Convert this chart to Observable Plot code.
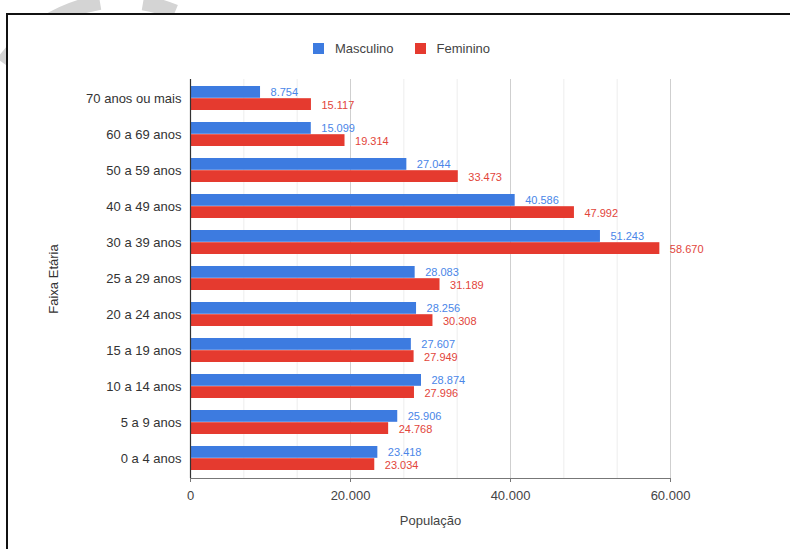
<!DOCTYPE html>
<html>
<head>
<meta charset="utf-8">
<script src="https://cdn.jsdelivr.net/npm/d3@7"></script>
<script src="https://cdn.jsdelivr.net/npm/@observablehq/plot@0.6"></script>
<style>
  body { margin: 0; width: 790px; height: 549px; overflow: hidden; position: relative; background: #fff;
         font-family: Arial, "Liberation Sans", sans-serif; }
  #mark { position: absolute; left: 0; top: 0; }
  #frame { position: absolute; left: 6px; top: 13px; width: 820px; height: 580px;
           border-top: 2px solid #111; border-left: 2px solid #111; background: #fff; }
  #legend { position: absolute; left: 313px; top: 41px; display: flex; align-items: center;
            font-size: 13px; color: #444; }
  #legend .sw { width: 11px; height: 11px; display: inline-block; margin-right: 11px; }
  #legend .item { display: flex; align-items: center; margin-right: 21px; }
  #chart { position: absolute; left: 0; top: 60px; }
</style>
</head>
<body>
<svg id="mark" width="790" height="549">
  <path d="M 3,63 A 149 149 0 0 1 100,2.4" fill="none" stroke="#d4d4d4" stroke-width="15"/>
  <path d="M 143,2.8 A 149 149 0 0 1 175,12" fill="none" stroke="#d4d4d4" stroke-width="15"/>
</svg>
<div id="frame"></div>
<div id="legend"></div>
<div id="chart"></div>
<script>
// Faixas etárias (de baixo para cima no gráfico)
const faixas = ["0 a 4 anos", "5 a 9 anos", "10 a 14 anos", "15 a 19 anos", "20 a 24 anos",
                "25 a 29 anos", "30 a 39 anos", "40 a 49 anos", "50 a 59 anos", "60 a 69 anos",
                "70 anos ou mais"];
const masculino = [23418, 25906, 28874, 27607, 28256, 28083, 51243, 40586, 27044, 15099, 8754];
const feminino  = [23034, 24768, 27996, 27949, 30308, 31189, 58670, 47992, 33473, 19314, 15117];
const series = ["Masculino", "Feminino"];
const xTicks = [0, 20000, 40000, 60000];

const corM = "#3d7be0", corF = "#e53a2f";
const corLabelM = "#4a86e8", corLabelF = "#e2453b";

const ptBR = d3.formatLocale({decimal: ",", thousands: ".", grouping: [3], currency: ["R$", ""]});
const fmt = ptBR.format(",d");

const rows = faixas.map((f, i) => ({faixa: f, masc: masculino[i], fem: feminino[i]}));

// legenda
const legend = document.getElementById("legend");
[[series[0], corM], [series[1], corF]].forEach(([name, c]) => {
  const it = document.createElement("div");
  it.className = "item";
  it.innerHTML = `<span class="sw" style="background:${c}"></span><span>${name}</span>`;
  legend.appendChild(it);
});

// linhas de grade secundárias: três divisões entre cada marca principal
const minor = d3.range(0, 60001, 20000 / 3).filter(v => !xTicks.some(t => Math.abs(t - v) < 1));

const half = 12.2;
const chart = Plot.plot({
  width: 790,
  height: 489,
  marginLeft: 190,
  marginRight: 120,
  marginTop: 19,
  marginBottom: 71,
  style: {fontSize: "13px", fontFamily: "Arial, 'Liberation Sans', sans-serif", color: "#333", background: "transparent"},
  x: {domain: [0, 60000]},
  y: {domain: faixas.slice().reverse(), paddingInner: 0.33, paddingOuter: 0.2},
  marks: [
    Plot.ruleX(minor, {stroke: "#ededed"}),
    Plot.ruleX(xTicks.slice(1), {stroke: "#cfcfcf"}),
    Plot.barX(rows, {x: "masc", y: "faixa", fill: corM, insetBottom: half}),
    Plot.barX(rows, {x: "fem", y: "faixa", fill: corF, insetTop: half}),
    Plot.text(rows, {x: "masc", y: "faixa", text: d => fmt(d.masc), dx: 10, dy: -6.5, textAnchor: "start", fill: corLabelM, fontSize: 11}),
    Plot.text(rows, {x: "fem", y: "faixa", text: d => fmt(d.fem), dx: 10, dy: 6.5, textAnchor: "start", fill: corLabelF, fontSize: 11}),
    Plot.frame({anchor: "bottom", stroke: "#777"}),
    Plot.ruleX([0], {stroke: "#333", strokeWidth: 1.2}),
    Plot.axisX({ticks: xTicks, tickFormat: fmt, tickSize: 4, tickPadding: 8, stroke: "#777",
                label: "População", labelAnchor: "center", labelArrow: "none", labelOffset: 46, fill: "#444"}),
    Plot.axisY({tickSize: 0, tickPadding: 9, fill: "#333",
                label: "Faixa Etária", labelAnchor: "center", labelArrow: "none", labelOffset: 142})
  ]
});
document.getElementById("chart").appendChild(chart);
</script>
</body>
</html>
